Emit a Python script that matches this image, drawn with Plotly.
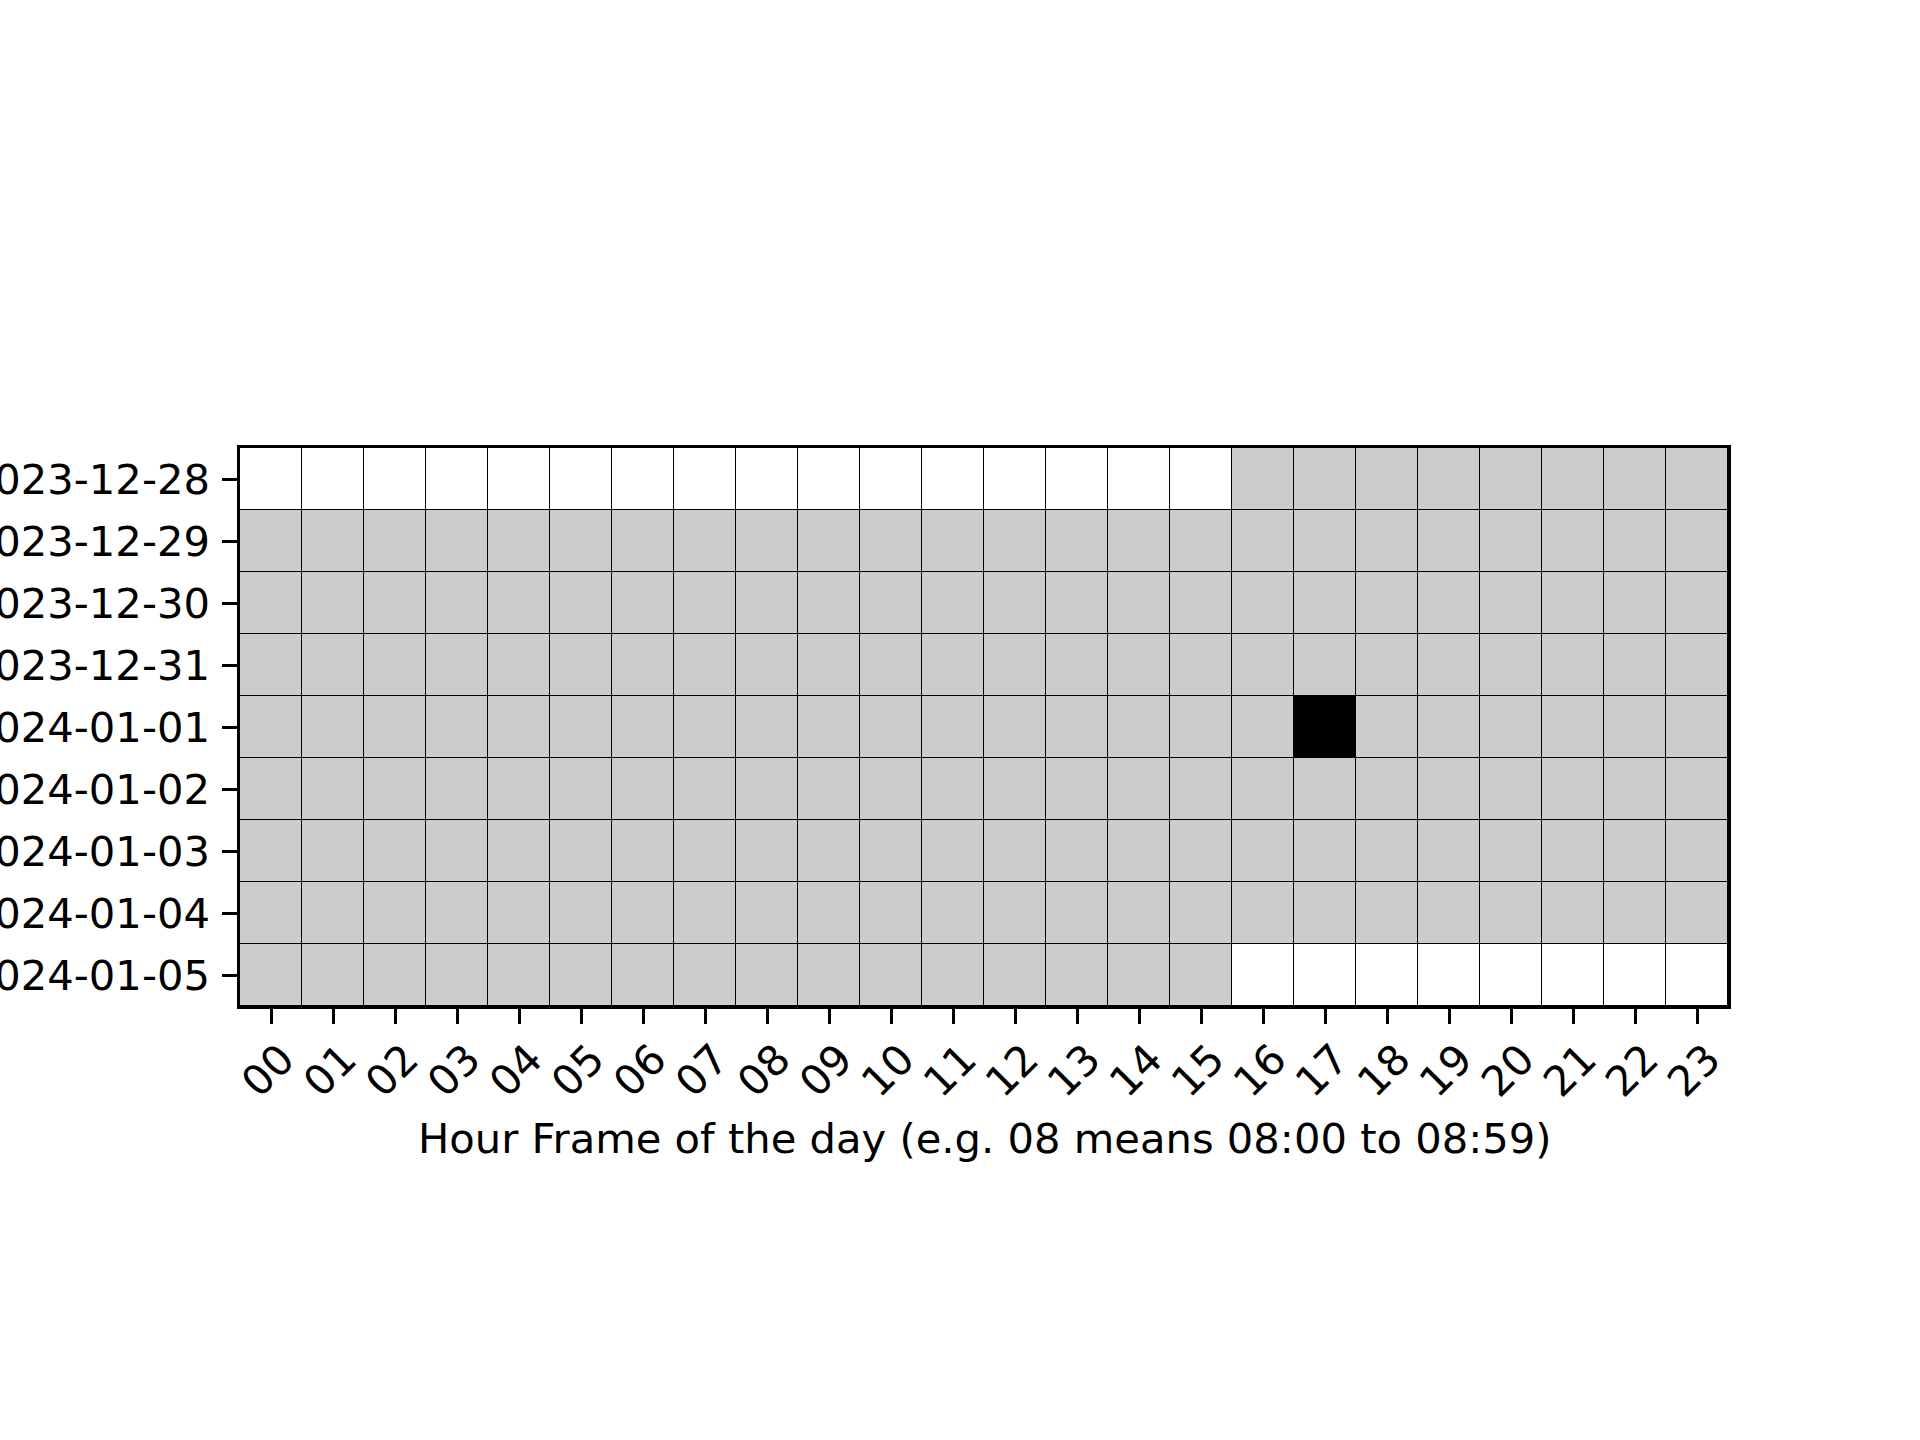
import plotly.graph_objects as go

hours = [f"{h:02d}" for h in range(24)]
dates = ["2023-12-28", "2023-12-29", "2023-12-30", "2023-12-31",
         "2024-01-01", "2024-01-02", "2024-01-03", "2024-01-04", "2024-01-05"]

# 0 = no data (white), 1 = available (gray), 2 = highlighted (black)
row_1228 = [0] * 16 + [1] * 8
row_full = [1] * 24
row_0101 = [1] * 17 + [2] + [1] * 6
row_0105 = [1] * 16 + [0] * 8
status = [row_1228, row_full, row_full, row_full, row_0101,
          row_full, row_full, row_full, row_0105]

xlabel = "Hour Frame of the day (e.g. 08 means 08:00 to 08:59)"

FONT = "DejaVu Sans"
FS = 41.67

fig = go.Figure(go.Heatmap(
    z=status, x=hours, y=dates,
    zmin=0, zmax=2,
    colorscale=[[0, "white"], [0.25, "white"], [0.25, "#cccccc"],
                [0.75, "#cccccc"], [0.75, "black"], [1, "black"]],
    showscale=False, xgap=1, ygap=1, hoverinfo="skip",
))

fig.update_layout(
    width=1920, height=1440,
    margin=dict(l=240, r=192, t=448, b=434, autoexpand=False),
    paper_bgcolor="white", plot_bgcolor="black",
    font=dict(family=FONT, size=FS, color="black"),
    showlegend=False,
)
fig.update_xaxes(
    type="category", showgrid=False, zeroline=False,
    showline=True, linewidth=3.3, linecolor="black", mirror=True,
    ticks="outside", ticklen=14.6, tickwidth=3, tickcolor="black",
    tickangle=-45, tickfont=dict(family=FONT, size=FS),
    ticklabelshift=11, ticklabelstandoff=-6,
    automargin=False,
)
fig.update_yaxes(
    type="category", autorange="reversed", showgrid=False, zeroline=False,
    showline=True, linewidth=3.3, linecolor="black", mirror=True,
    ticks="outside", ticklen=14.6, tickwidth=3, tickcolor="black",
    tickfont=dict(family=FONT, size=FS), ticklabelstandoff=4,
    automargin=False,
)
fig.add_annotation(
    text=xlabel, xref="paper", yref="paper", x=0.5, y=0,
    xanchor="center", yanchor="middle", yshift=-132, showarrow=False,
    font=dict(family=FONT, size=FS, color="black"),
)

fig.write_html("out.html")
